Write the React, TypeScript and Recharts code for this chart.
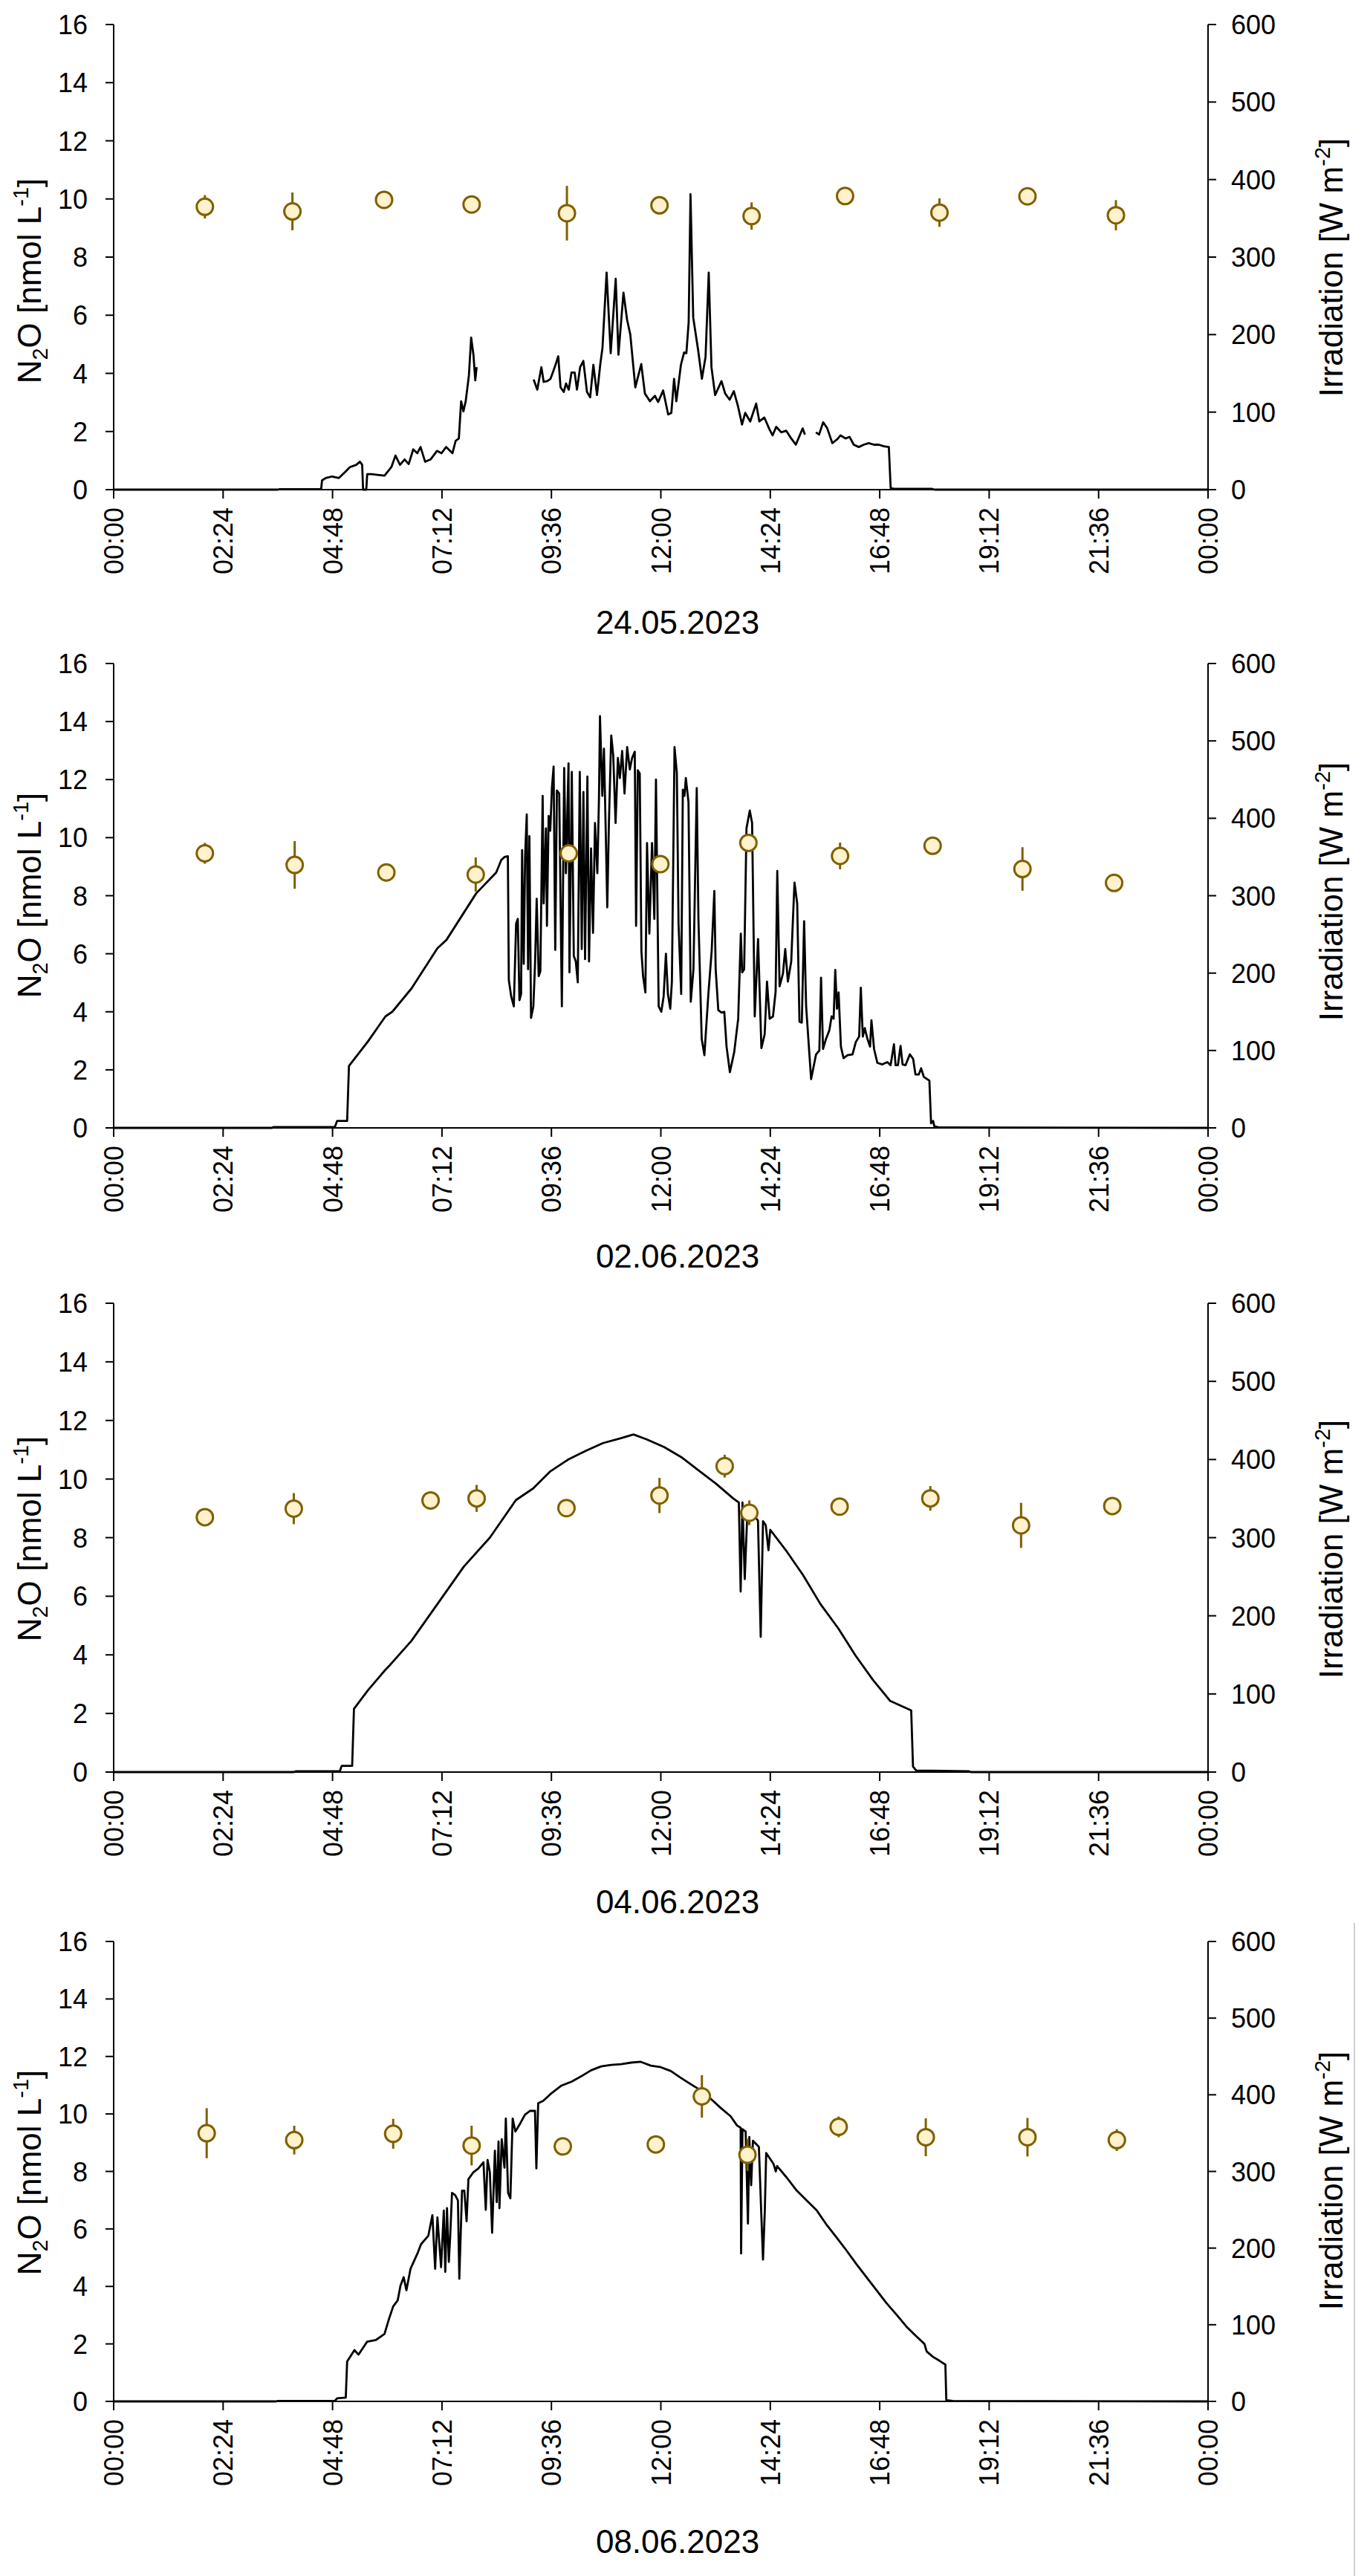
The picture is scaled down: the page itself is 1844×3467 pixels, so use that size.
import React from 'react';
import { ComposedChart, Line, Scatter, XAxis, YAxis, ErrorBar, Label } from 'recharts';

const FONT = '"Liberation Sans", Arial, Helvetica, sans-serif';

const X_TICKS = [0, 2.4, 4.8, 7.2, 9.6, 12, 14.4, 16.8, 19.2, 21.6, 24];
const N2O_TICKS = [0, 2, 4, 6, 8, 10, 12, 14, 16];
const IRR_TICKS = [0, 100, 200, 300, 400, 500, 600];
const DATES = ['24.05.2023', '02.06.2023', '04.06.2023', '08.06.2023'];

// N2O: [hour, mean nmol/L, sd]
const n2o0524: number[][] = [
  [2.0, 9.73, 0.4], [3.92, 9.57, 0.65], [5.93, 9.97, 0.2], [7.85, 9.81, 0.2], [9.94, 9.51, 0.94],
  [11.97, 9.78, 0.2], [13.99, 9.41, 0.47], [16.04, 10.1, 0.2], [18.11, 9.53, 0.49], [20.04, 10.09, 0.2], [21.98, 9.44, 0.52],
];
const n2o0602: number[][] = [
  [2.0, 9.46, 0.36], [3.97, 9.06, 0.82], [5.98, 8.8, 0.2], [7.94, 8.73, 0.59], [9.98, 9.46, 0.2],
  [11.99, 9.09, 0.2], [13.92, 9.82, 0.3], [15.93, 9.37, 0.46], [17.96, 9.72, 0.25], [19.93, 8.92, 0.75], [21.94, 8.44, 0.2],
];
const n2o0604: number[][] = [
  [2.0, 8.7, 0.2], [3.95, 8.99, 0.53], [6.95, 9.27, 0.25], [7.96, 9.34, 0.46], [9.93, 9.01, 0.2], [11.97, 9.44, 0.6],
  [13.4, 10.44, 0.39], [13.94, 8.85, 0.42], [15.92, 9.06, 0.2], [17.91, 9.34, 0.42], [19.9, 8.42, 0.77], [21.9, 9.08, 0.2],
];
const n2o0608: number[][] = [
  [2.04, 9.33, 0.87], [3.96, 9.09, 0.5], [6.13, 9.31, 0.52], [7.85, 8.9, 0.69], [9.85, 8.87, 0.2], [11.89, 8.94, 0.2],
  [12.9, 10.61, 0.74], [13.9, 8.58, 0.56], [15.9, 9.55, 0.36], [17.81, 9.19, 0.66], [20.04, 9.19, 0.67], [22.0, 9.09, 0.38],
];

// Irradiation: [hour, W m-2] (null = gap)
const irr0524: (number | null)[][] = [
  [0, 0], [3.6, 0], [3.64, 0.5], [4.55, 0.5], [4.57, 12], [4.65, 15], [4.79, 17], [4.94, 15], [5.08, 23], [5.18, 29],
  [5.32, 32], [5.4, 36], [5.45, 32], [5.47, 0], [5.54, 0], [5.56, 20], [5.66, 20], [5.94, 18], [6.09, 29], [6.18, 44],
  [6.28, 32], [6.38, 39], [6.47, 33], [6.57, 52], [6.66, 47], [6.73, 55], [6.83, 36], [6.95, 39], [7.09, 50], [7.19, 47],
  [7.29, 55], [7.43, 47], [7.5, 63], [7.57, 66], [7.62, 114], [7.67, 101], [7.72, 114], [7.79, 147], [7.84, 196], [7.89, 174],
  [7.93, 141], [7.96, 158], [8.5, null],
  [9.21, 142], [9.29, 129], [9.38, 158], [9.43, 139], [9.51, 140], [9.58, 143], [9.63, 151], [9.69, 161], [9.75, 172],
  [9.8, 132], [9.87, 126], [9.92, 137], [9.98, 129], [10.04, 151], [10.11, 151], [10.16, 129], [10.23, 158], [10.3, 166],
  [10.38, 126], [10.45, 119], [10.52, 161], [10.6, 122], [10.67, 161], [10.72, 183], [10.81, 280], [10.9, 176], [11.01, 272],
  [11.07, 174], [11.18, 254], [11.26, 219], [11.33, 200], [11.44, 132], [11.57, 162], [11.65, 124], [11.76, 114], [11.87, 121],
  [11.94, 113], [12.05, 128], [12.16, 97], [12.23, 99], [12.29, 143], [12.34, 114], [12.44, 161], [12.51, 177], [12.56, 176],
  [12.61, 216], [12.65, 381], [12.71, 222], [12.82, 179], [12.9, 143], [12.98, 171], [13.05, 280], [13.11, 158], [13.19, 122],
  [13.33, 140], [13.41, 124], [13.51, 116], [13.6, 127], [13.69, 108], [13.78, 84], [13.85, 99], [13.96, 88], [14.09, 111],
  [14.16, 88], [14.27, 93], [14.38, 78], [14.45, 70], [14.53, 81], [14.64, 74], [14.75, 76], [14.86, 66], [14.96, 58],
  [15.11, 79], [15.16, 71], [15.3, null],
  [15.4, 74], [15.47, 71], [15.56, 87], [15.65, 79], [15.76, 60], [15.87, 65], [15.94, 70], [16.05, 66], [16.14, 68],
  [16.23, 58], [16.34, 55], [16.45, 58], [16.56, 60], [16.67, 58], [16.78, 58], [16.89, 56], [17.0, 55], [17.04, 2],
  [17.11, 1], [17.95, 1], [18.0, 0], [24, 0],
];

const irr0602: (number | null)[][] = [
  [0, 0], [3.47, 0], [3.5, 1], [4.85, 1], [4.9, 9], [5.12, 9], [5.16, 80], [5.58, 112], [5.96, 144], [6.11, 150],
  [6.53, 180], [7.1, 232], [7.3, 243], [7.95, 303], [8.39, 330], [8.5, 346], [8.57, 350], [8.645, 351],
  [8.666, 191], [8.717, 170], [8.775, 157], [8.826, 264], [8.863, 270], [8.899, 165], [8.935, 173], [8.957, 359],
  [8.993, 212], [9.023, 351], [9.059, 405], [9.088, 205], [9.117, 377], [9.153, 142], [9.204, 157], [9.241, 212],
  [9.277, 296], [9.321, 196], [9.357, 202], [9.408, 429], [9.43, 290], [9.48, 387], [9.502, 261], [9.539, 403],
  [9.575, 384], [9.611, 439], [9.648, 467], [9.684, 230], [9.72, 436], [9.771, 432], [9.829, 157], [9.88, 465],
  [9.917, 329], [9.975, 471], [9.996, 201], [10.047, 460], [10.091, 222], [10.135, 215], [10.178, 188], [10.222, 460],
  [10.265, 231], [10.302, 434], [10.338, 218], [10.389, 454], [10.425, 215], [10.469, 361], [10.512, 252], [10.556, 394],
  [10.607, 329], [10.643, 426], [10.665, 532], [10.716, 429], [10.752, 490], [10.789, 390], [10.825, 285], [10.861, 394],
  [10.912, 507], [10.956, 481], [11.007, 394], [11.058, 478], [11.101, 452], [11.152, 487], [11.203, 432], [11.261, 492],
  [11.319, 463], [11.37, 478], [11.428, 486], [11.457, 261], [11.494, 462], [11.537, 458], [11.574, 228], [11.61, 196],
  [11.661, 175], [11.697, 368], [11.748, 251], [11.806, 368], [11.857, 270], [11.893, 450], [11.952, 157], [12.01, 150],
  [12.061, 170], [12.111, 225], [12.155, 173], [12.206, 154], [12.242, 189], [12.3, 492], [12.351, 458], [12.388, 264],
  [12.446, 173], [12.482, 437], [12.518, 429], [12.548, 452], [12.606, 421], [12.656, 163], [12.715, 205], [12.787, 439],
  [12.824, 270], [12.896, 115], [12.955, 94], [13.042, 173], [13.114, 228], [13.173, 306], [13.202, 205], [13.26, 152],
  [13.332, 149], [13.391, 150], [13.441, 105], [13.514, 72], [13.609, 98], [13.696, 141], [13.754, 251], [13.783, 201],
  [13.827, 205], [13.878, 387], [13.95, 410], [14.001, 394], [14.059, 144], [14.132, 244], [14.205, 103], [14.277, 121],
  [14.328, 189], [14.386, 141], [14.459, 144], [14.517, 176], [14.553, 332], [14.604, 183], [14.677, 199], [14.728, 231],
  [14.786, 189], [14.859, 215], [14.895, 267], [14.931, 317], [14.99, 290], [15.04, 137], [15.091, 136], [15.142, 267],
  [15.186, 157], [15.295, 63], [15.404, 95], [15.476, 100], [15.513, 194], [15.557, 102], [15.622, 115], [15.695, 126],
  [15.745, 144], [15.789, 141], [15.825, 204], [15.862, 154], [15.898, 175], [15.949, 105], [16.007, 90], [16.094, 94],
  [16.203, 95], [16.276, 111], [16.349, 118], [16.385, 181], [16.429, 118], [16.472, 129], [16.53, 115], [16.588, 105],
  [16.618, 139], [16.676, 102], [16.748, 84], [16.857, 82], [16.966, 85], [17.039, 81], [17.112, 108], [17.148, 81],
  [17.199, 81], [17.257, 106], [17.301, 82], [17.366, 81], [17.461, 95], [17.533, 89], [17.584, 69], [17.657, 69],
  [17.708, 77], [17.766, 66], [17.839, 63], [17.889, 61], [17.926, 6], [17.97, 9], [17.998, 2], [18.1, 0.5], [24, 0],
];

const irr0604: (number | null)[][] = [
  [0, 0], [3.95, 0], [4.0, 1], [4.96, 1], [5.0, 8], [5.23, 8], [5.27, 81], [5.58, 105], [5.96, 131], [6.06, 137],
  [6.53, 168], [7.1, 215], [7.68, 263], [8.25, 300], [8.82, 348], [9.2, 363], [9.58, 385], [9.97, 400], [10.35, 411],
  [10.73, 421], [11.11, 427], [11.4, 432], [11.68, 426], [12.07, 416], [12.45, 403], [12.83, 386], [13.21, 369],
  [13.59, 350], [13.71, 345], [13.75, 231], [13.79, 345], [13.84, 247], [13.9, 337], [14.07, 326], [14.13, 322],
  [14.19, 173], [14.24, 321], [14.3, 316], [14.36, 284], [14.4, 310], [14.74, 284], [15.12, 252], [15.5, 215],
  [15.89, 184], [16.27, 149], [16.65, 118], [17.03, 91], [17.49, 79], [17.53, 7], [17.6, 2], [18.75, 1], [18.8, 0], [24, 0],
];

const irr0608: (number | null)[][] = [
  [0, 0], [3.56, 0], [3.6, 0.5], [4.85, 0.5], [4.9, 4], [5.09, 5], [5.12, 52], [5.28, 67], [5.37, 61], [5.56, 78],
  [5.75, 80], [5.94, 88], [6.04, 108], [6.13, 124], [6.23, 132], [6.29, 151], [6.36, 162], [6.42, 145], [6.51, 173],
  [6.67, 194], [6.74, 205], [6.9, 216], [6.99, 243], [7.05, 173], [7.1, 240], [7.18, 175], [7.24, 249],
  [7.272, 169], [7.31, 252], [7.35, 182], [7.38, 215], [7.42, 272], [7.49, 269], [7.55, 262], [7.58, 160], [7.64, 275],
  [7.69, 275], [7.74, 235], [7.78, 290], [7.89, 299], [8.0, 304], [8.11, 312], [8.16, 250], [8.2, 315], [8.25, 299],
  [8.3, 220], [8.36, 327], [8.4, 260], [8.44, 339], [8.46, 252], [8.51, 342], [8.57, 305], [8.6, 369], [8.65, 272],
  [8.7, 265], [8.75, 369], [8.81, 352], [8.91, 362], [9.02, 374], [9.13, 379], [9.24, 379], [9.27, 304], [9.31, 389],
  [9.42, 392], [9.6, 402], [9.82, 412], [10.04, 417], [10.25, 424], [10.47, 432], [10.69, 437], [10.91, 439],
  [11.13, 440], [11.35, 442], [11.56, 443], [11.78, 438], [12.0, 436], [12.22, 431], [12.44, 422], [12.65, 414],
  [12.87, 406], [13.09, 395], [13.31, 383], [13.53, 372], [13.67, 360], [13.75, 357], [13.76, 193], [13.79, 355],
  [13.86, 352], [13.91, 232], [13.94, 345], [13.98, 282], [14.02, 340], [14.15, 332], [14.2, 249], [14.24, 185],
  [14.28, 249], [14.31, 324], [14.47, 310], [14.52, 300], [14.55, 307], [14.76, 292], [14.98, 275], [15.2, 262],
  [15.42, 249], [15.64, 230], [15.85, 214], [16.07, 197], [16.29, 179], [16.51, 162], [16.73, 145], [16.95, 128],
  [17.17, 113], [17.38, 98], [17.6, 85], [17.78, 75], [17.83, 65], [17.97, 58], [18.11, 53], [18.24, 48], [18.26, 1.6],
  [18.4, 0.5], [24, 0],
];

const PANELS = [
  { top: 0, plotTop: 33, plotH: 626, lTitleY: 378, rTitleY: 360, dateY: 853, date: DATES[0], n2o: n2o0524, irr: irr0524 },
  { top: 860, plotTop: 33, plotH: 625, lTitleY: 345, rTitleY: 340, dateY: 846, date: DATES[1], n2o: n2o0602, irr: irr0602 },
  { top: 1720, plotTop: 34, plotH: 631, lTitleY: 351, rTitleY: 365, dateY: 855, date: DATES[2], n2o: n2o0604, irr: irr0604 },
  { top: 2580, plotTop: 33, plotH: 619, lTitleY: 344, rTitleY: 355, dateY: 856, date: DATES[3], n2o: n2o0608, irr: irr0608 },
];

const GOLD = '#7F6000';
const GOLD_FILL = '#FFF2CC';

function fmtTime(h: number) {
  const m = Math.round(h * 60) % 1440;
  return `${String(Math.floor(m / 60)).padStart(2, '0')}:${String(m % 60).padStart(2, '0')}`;
}

const LeftTick = (p: any) => (
  <text x={p.x} y={p.y} dy={13} textAnchor="end" fontSize={36} fontFamily={FONT} fill="#000">
    {p.payload.value}
  </text>
);
const RightTick = (p: any) => (
  <text x={p.x} y={p.y} dy={13} textAnchor="start" fontSize={36} fontFamily={FONT} fill="#000">
    {p.payload.value}
  </text>
);
const BottomTick = (p: any) => (
  <text transform={`translate(${p.x},${p.y}) rotate(-90)`} dy={13} textAnchor="end" fontSize={36} fontFamily={FONT} fill="#000">
    {fmtTime(p.payload.value)}
  </text>
);

const Dot = (p: any) => <circle cx={p.cx} cy={p.cy} r={11} fill={GOLD_FILL} stroke={GOLD} strokeWidth={3} />;

function Panel({ cfg }: { cfg: any }) {
  const H = 870;
  const XH = 150;
  const lineData = cfg.irr.map((d: any) => ({ h: d[0], w: d[1] }));
  const dotData = cfg.n2o.map((d: any) => ({ h: d[0], v: d[1], e: d[2] }));
  const axisStyle = { stroke: '#000', strokeWidth: 2 };
  return (
    <div style={{ position: 'absolute', left: 0, top: cfg.top, width: 1844, height: H }}>
      <ComposedChart
        width={1844}
        height={H}
        margin={{ top: cfg.plotTop, right: 0, bottom: H - cfg.plotTop - cfg.plotH - XH, left: 0 }}
      >
        <XAxis
          type="number"
          dataKey="h"
          domain={[0, 24]}
          ticks={X_TICKS}
          interval={0}
          allowDataOverflow
          height={XH}
          tickSize={12}
          tickMargin={12}
          axisLine={axisStyle}
          tickLine={axisStyle}
          tick={BottomTick}
        >
          <Label
            content={() => (
              <text x={912} y={cfg.dateY} textAnchor="middle" fontSize={44} fontFamily={FONT} fill="#000">
                {cfg.date}
              </text>
            )}
          />
        </XAxis>
        <YAxis
          yAxisId="left"
          orientation="left"
          width={153}
          domain={[0, 16]}
          ticks={N2O_TICKS}
          interval={0}
          tickSize={11}
          tickMargin={24}
          axisLine={axisStyle}
          tickLine={axisStyle}
          tick={LeftTick}
        >
          <Label
            content={() => (
              <text
                transform={`translate(55,${cfg.lTitleY}) rotate(-90)`}
                textAnchor="middle"
                fontSize={44}
                fontFamily={FONT}
                fill="#000"
              >
                <tspan>N</tspan>
                <tspan dy={9} fontSize={29}>2</tspan>
                <tspan dy={-9}>O [nmol L</tspan>
                <tspan dy={-17} fontSize={29}>-1</tspan>
                <tspan dy={17}>]</tspan>
              </text>
            )}
          />
        </YAxis>
        <YAxis
          yAxisId="right"
          orientation="right"
          width={218}
          domain={[0, 600]}
          ticks={IRR_TICKS}
          interval={0}
          tickSize={11}
          tickMargin={20}
          axisLine={axisStyle}
          tickLine={axisStyle}
          tick={RightTick}
        >
          <Label
            content={() => (
              <text
                transform={`translate(1807,${cfg.rTitleY}) rotate(-90)`}
                textAnchor="middle"
                fontSize={44}
                fontFamily={FONT}
                fill="#000"
              >
                <tspan>Irradiation [W  m</tspan>
                <tspan dy={-17} fontSize={29}>-2</tspan>
                <tspan dy={17}>]</tspan>
              </text>
            )}
          />
        </YAxis>
        <Line
          yAxisId="right"
          data={lineData}
          dataKey="w"
          type="linear"
          stroke="#000"
          strokeWidth={2.8}
          strokeLinejoin="round"
          dot={false}
          activeDot={false}
          isAnimationActive={false}
          connectNulls={false}
        />
        <Scatter yAxisId="left" data={dotData} dataKey="v" shape={Dot} isAnimationActive={false}>
          <ErrorBar dataKey="e" direction="y" width={0} stroke={GOLD} strokeWidth={3} />
        </Scatter>
      </ComposedChart>
    </div>
  );
}

export default function App() {
  return (
    <div style={{ position: 'absolute', left: 0, top: 0, width: 1844, height: 3467, background: '#fff', overflow: 'hidden' }}>
      {PANELS.map((cfg, i) => (
        <Panel key={i} cfg={cfg} />
      ))}
      <div style={{ position: 'absolute', left: 1822, top: 2588, width: 2, height: 879, background: '#cfcfcf' }} />
    </div>
  );
}
